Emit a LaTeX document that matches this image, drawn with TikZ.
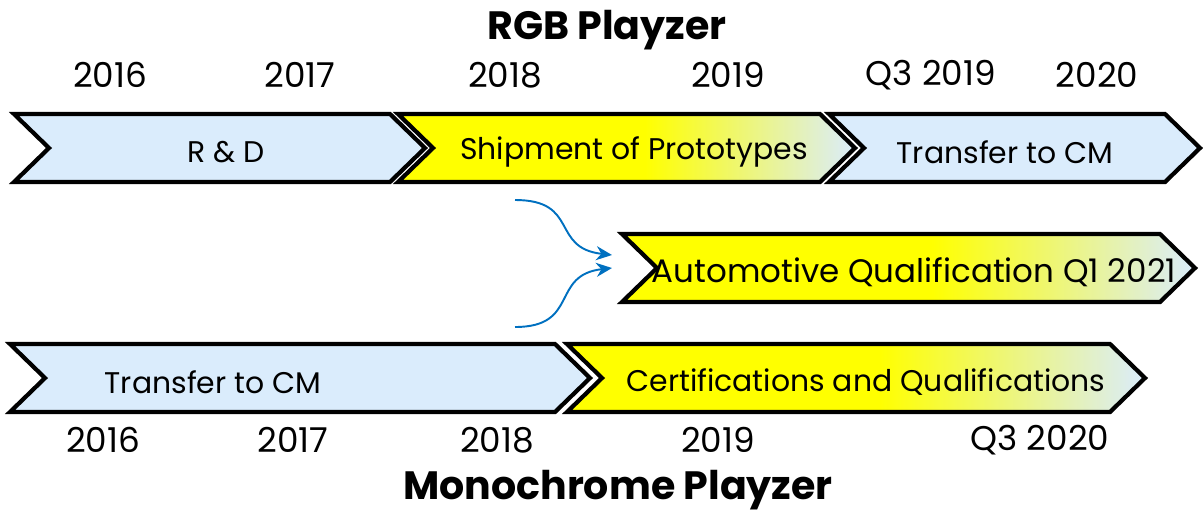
\documentclass[tikz,border=0pt]{standalone}
\usepackage{fontspec}
\setmainfont{Poppins}
\usetikzlibrary{arrows.meta}
\definecolor{chevblue}{RGB}{218, 236, 252}
\definecolor{chevyellow}{RGB}{255, 255, 0}
\definecolor{arrowblue}{RGB}{0, 112, 192}
\pgfdeclarehorizontalshading{yellowfade}{100bp}{color(0bp)=(chevyellow); color(25bp)=(chevyellow); color(52bp)=(chevyellow); color(75bp)=(chevblue); color(100bp)=(chevblue)}

\begin{document}
\begin{tikzpicture}[x=0.02cm, y=-0.02cm,
    chev/.style={draw=black, line width=2.4pt, line join=miter},
    plain/.style={chev, fill=chevblue},
    fade/.style={chev, shading=yellowfade},
    year/.style={font=\fontsize{19.5}{22}\selectfont},
    title/.style={font=\bfseries\fontsize{22.5}{26}\selectfont},
    label/.style={font=\fontsize{17}{20}\selectfont},
    link/.style={draw=arrowblue, line width=1.1pt, -{Stealth[length=9pt, width=8pt]}}]
        \useasboundingbox (0,0) rectangle (1203,512);
        \def\d{35}
        % RGB row
        \draw[plain] (14,114) -- (390,114) -- (390+\d,148) -- (390,182) -- (14,182) -- (14+\d,148) -- cycle;
        \draw[fade] (398,114) -- (820,114) -- (820+\d,148) -- (820,182) -- (398,182) -- (398+\d,148) -- cycle;
        \draw[plain] (829,114) -- (1165,114) -- (1165+\d,148) -- (1165,182) -- (829,182) -- (829+\d,148) -- cycle;
        \node[label] (rd) at (226,152) {R \& D};
        \node[label] (ship) at (634,152) {Shipment of Prototypes};
        \node[label] (rgbcm) at (1005,152) {Transfer to CM};

        % Automotive qualification
        \draw[fade] (622,234) -- (1160,234) -- (1160+\d,268) -- (1160,302) -- (622,302) -- (622+\d,268) -- cycle;
        \node[label, font=\fontsize{18.5}{22}\selectfont] (auto) at (914,272) {Automotive Qualification Q1 2021};

        % Monochrome row
        \draw[plain] (10,344) -- (555,344) -- (555+\d,378) -- (555,412) -- (10,412) -- (10+\d,378) -- cycle;
        \draw[fade] (567,344) -- (1110,344) -- (1110+\d,378) -- (1110,412) -- (567,412) -- (567+\d,378) -- cycle;
        \node[label] (monocm) at (213,382) {Transfer to CM};
        \node[label] (cert) at (866,382) {Certifications and Qualifications};

        % links into automotive qualification
        \coordinate (fromrgb) at (515,200);
        \coordinate (frommono) at (515,327);
        \coordinate (intop) at (612,255);
        \coordinate (inbot) at (612,268);
        \draw[link] (fromrgb) .. controls (580,200) and (550,248) .. (intop);
        \draw[link] (frommono) .. controls (580,327) and (550,275) .. (inbot);

        % titles and years
        \node[title] (rgb) at (607,30) {RGB Playzer};
        \node[title] (mono) at (618,490) {Monochrome Playzer};
        \foreach \x/\t [count=\i] in {110/2016, 300/2017, 505/2018, 728/2019, 931/Q3 2019, 1097/2020}
            \node[year] (top\i) at (\x,75) {\t};
        \foreach \x/\t [count=\i] in {103/2016, 293/2017, 497/2018, 718/2019, 1040/Q3 2020}
            \node[year] (bot\i) at (\x,440) {\t};
\end{tikzpicture}
\end{document}
